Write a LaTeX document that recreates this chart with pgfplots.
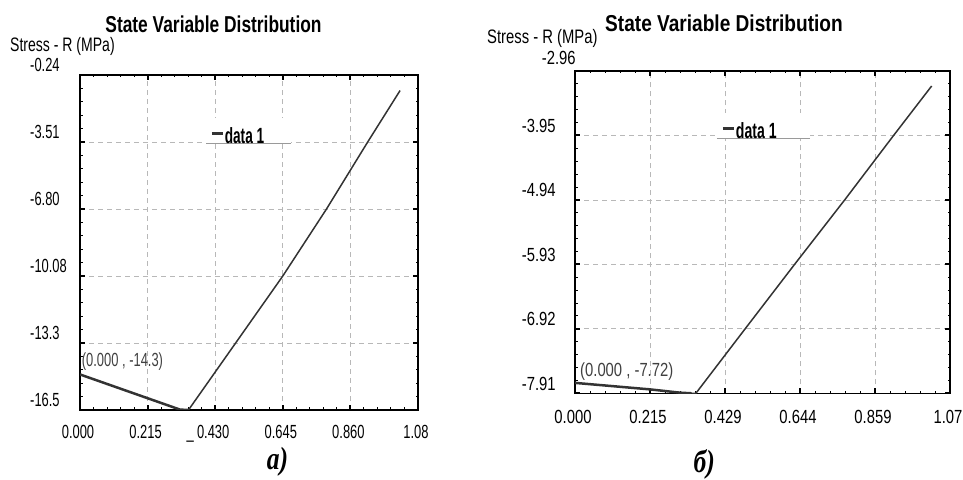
\documentclass[border=0pt]{standalone}
\usepackage{fontspec}
\setmainfont{Liberation Sans}
\newfontfamily\fA[FakeStretch=0.68]{Liberation Sans}
\newfontfamily\fB[FakeStretch=0.78]{Liberation Sans}
\newfontfamily\tA[FakeStretch=0.755]{Liberation Sans}
\newfontfamily\tB[FakeStretch=0.83]{Liberation Sans}
\newfontfamily\sA[FakeStretch=0.72]{Liberation Sans}
\newfontfamily\sB[FakeStretch=0.76]{Liberation Sans}
\newfontfamily\lA[FakeStretch=0.62]{Liberation Sans}
\newfontfamily\lB[FakeStretch=0.64]{Liberation Sans}
\newfontfamily\capf[FakeStretch=0.8]{Liberation Serif}
\usepackage{pgfplots}
\pgfplotsset{compat=1.18}
\definecolor{linec}{HTML}{333333}
\definecolor{gridc}{HTML}{B8B8B8}
\definecolor{ulc}{HTML}{9A9A9A}
\definecolor{annc}{HTML}{404040}
\pgfplotsset{sv/.style={
  scale only axis, anchor=south west,
  axis line style={line width=1.5pt},
  grid=major,
  major grid style={dash pattern=on 5pt off 4pt, color=gridc, line width=0.8pt},
  major tick length=5pt, minor tick length=2.5pt,
  major tick style={line width=2pt, black},
  minor tick style={line width=1pt, black},
  minor x tick num=4, minor y tick num=4,
  tick align=inside,
  xticklabel style={inner sep=0pt, anchor=north, xshift=-2pt},
  yticklabel style={inner sep=0pt, anchor=west},
  legend image code/.code={\draw[line width=3pt, linec] (0pt,0.2em) -- (11pt,0.2em);},
  legend style={draw=none, fill=none, anchor=south west, inner xsep=0pt, inner ysep=1pt, nodes={inner sep=0.5pt}},
}}
\begin{document}
\begin{tikzpicture}[x=1pt,y=1pt]
\useasboundingbox (0,0) rectangle (963,479);
% ---------- a) ----------
\begin{axis}[sv,
  at={(80pt,69pt)}, width=338pt, height=335pt,
  xmin=0, xmax=1.075, ymin=-16.64, ymax=-0.24,
  xtick={0,0.215,0.43,0.645,0.86,1.075},
  xticklabels={0.000,0.215,{\llap{\_\,}0.430},0.645,0.860,1.08},
  ytick={-16.64,-13.36,-10.08,-6.80,-3.52,-0.24},
  yticklabels={-16.5,-13.3,-10.08,-6.80,-3.51,-0.24},
  tick label style={font=\fA\fontsize{19}{22}\selectfont},
  xticklabel style={yshift=-15pt},
  yticklabel style={xshift=-50pt, yshift=10.5pt},
  legend style={at={(axis description cs:0.385,0.787)}, font=\lA\bfseries\fontsize{22}{26}\selectfont},
]
\addplot[linec, line width=2.5pt] coordinates {(0,-14.9) (0.318,-16.62) (0.345,-16.64)};
\addlegendentry{data 1}
\addplot[linec, line width=1.5pt, forget plot] coordinates {(0.345,-16.64) (0.495,-13.36) (0.645,-10.08) (0.784,-6.80) (0.915,-3.52) (1.018,-1.0)};
\fill[white] (axis description cs:0.373,0.796) rectangle (axis description cs:0.624,0.872);
\draw[ulc, line width=1.3pt] (axis description cs:0.373,0.796) -- (axis description cs:0.624,0.796);
\end{axis}
% ---------- b) ----------
\begin{axis}[sv,
  at={(575pt,85.7pt)}, width=375pt, height=322.3pt,
  xmin=0, xmax=1.0735, ymin=-7.91, ymax=-2.96,
  xtick={0,0.2147,0.4294,0.6441,0.8588,1.0735},
  xticklabels={0.000,0.215,0.429,0.644,0.859,1.07},
  ytick={-7.91,-6.92,-5.93,-4.94,-3.95,-2.96},
  yticklabels={-7.91,-6.92,-5.93,-4.94,-3.95,{}},
  extra y ticks={-2.96}, extra y tick labels={-2.96},
  extra y tick style={grid=none, major tick length=0pt, yticklabel style={xshift=20pt, yshift=4pt}},
  tick label style={font=\fB\fontsize{19}{22}\selectfont},
  xticklabel style={yshift=-16.7pt},
  yticklabel style={xshift=-53.3pt, yshift=9.5pt},
  legend style={at={(axis description cs:0.390,0.782)}, font=\lB\bfseries\fontsize{22}{26}\selectfont},
]
\addplot[linec, line width=2.5pt] coordinates {(0,-7.75) (0.215,-7.85) (0.30,-7.90) (0.334,-7.91)};
\addlegendentry{data 1}
\addplot[linec, line width=1.5pt, forget plot] coordinates {(0.334,-7.91) (0.346,-7.91) (0.487,-6.92) (0.630,-5.92) (0.772,-4.94) (0.912,-3.95) (1.021,-3.19)};
\fill[white] (axis description cs:0.378,0.791) rectangle (axis description cs:0.627,0.87);
\draw[ulc, line width=1.3pt] (axis description cs:0.378,0.791) -- (axis description cs:0.627,0.791);
\end{axis}
% ---------- texts ----------
\node[anchor=base, inner sep=0pt, font=\tA\bfseries\fontsize{23}{27}\selectfont] at (213.5,446.7) {State Variable Distribution};
\node[anchor=base, inner sep=0pt, font=\tB\bfseries\fontsize{23}{27}\selectfont] at (724,447.3) {State Variable Distribution};
\node[anchor=base west, inner sep=0pt, font=\sA\fontsize{19.5}{23}\selectfont] at (10,427) {Stress - R (MPa)};
\node[anchor=base west, inner sep=0pt, font=\sB\fontsize{19.5}{23}\selectfont] at (487,435) {Stress - R (MPa)};
\node[anchor=base west, inner sep=0pt, text=annc, font=\fA\fontsize{19}{22}\selectfont] at (81.7,112) {(0.000 , -14.3)};
\node[anchor=base west, inner sep=0pt, text=annc, font=\fB\fontsize{19}{22}\selectfont] at (580,102.3) {(0.000 , -7.72)};
\node[anchor=base west, inner sep=0pt, font=\capf\bfseries\itshape\fontsize{32}{36}\selectfont] at (266.7,10) {a)};
\node[anchor=base west, inner sep=0pt, font=\capf\bfseries\itshape\fontsize{32}{36}\selectfont] at (693.3,7) {б)};
\end{tikzpicture}
\end{document}
